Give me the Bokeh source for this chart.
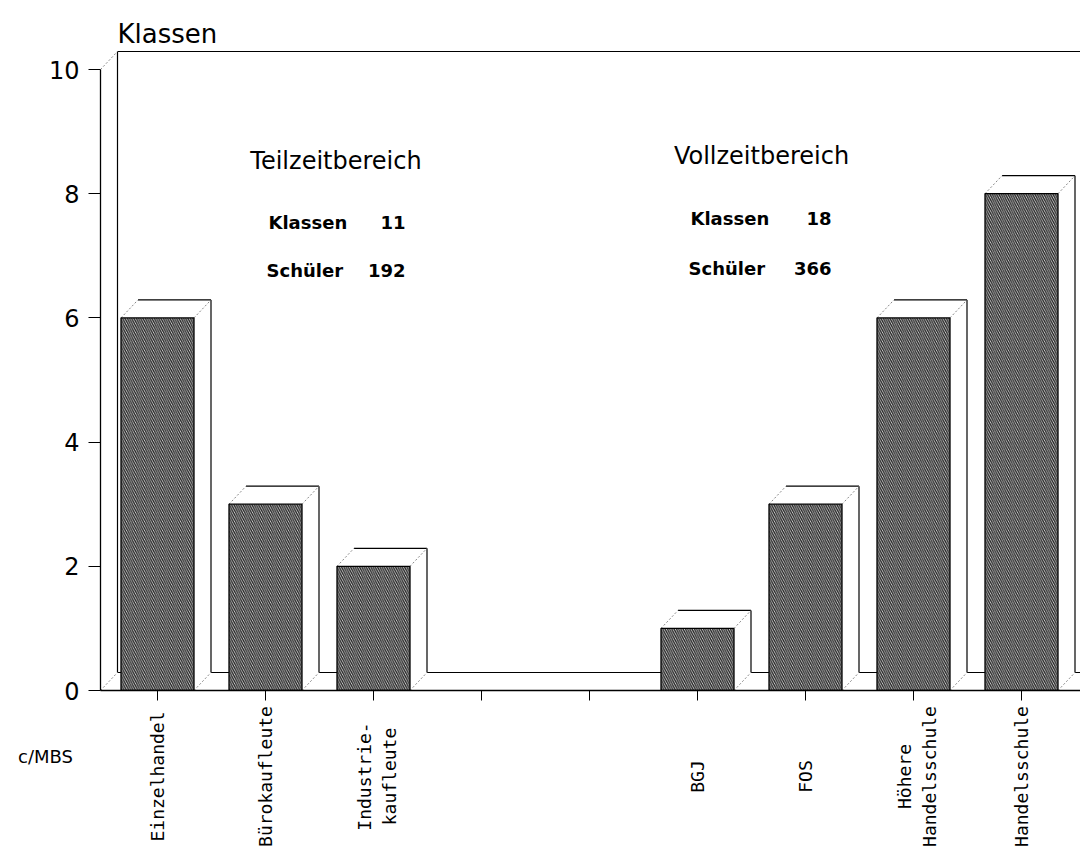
import math
import numpy as np
from bokeh.plotting import figure
from bokeh.layouts import column
from bokeh.models import Range1d, FixedTicker
from bokeh.core.properties import value
from bokeh.embed import file_html
from bokeh.resources import INLINE

# ---------------- data ----------------
categories = ["Einzelhandel", "Bürokaufleute", "Industrie-\nkaufleute",
              "BGJ", "FOS", "Höhere\nHandelsschule", "Handelsschule"]
slots = [0, 1, 2, 5, 6, 7, 8]          # position of each category (two empty slots)
klassen = [6, 3, 2, 1, 3, 6, 8]
all_slots = [0, 1, 2, 3, 4, 5, 6, 7, 8]
y_ticks = [0, 2, 4, 6, 8, 10]
groups = ["Teilzeitbereich", "Vollzeitbereich"]
group_klassen = [11, 18]
group_schueler = [192, 366]
y_title = "Klassen"
footer = "c/MBS"

# ---------------- layout (page pixels) ----------------
W, H = 1080, 849
AX_X, AX_Y = 100, 690          # y-axis line x, baseline y
H_MAIN = 705
PX_SLOT = 108.0
PX_UNIT = 62.1
SLOT0 = 157                     # page x of first slot


def px_x(page_x):
    return (page_x - SLOT0) / PX_SLOT


def px_y(page_y):
    return (AX_Y - page_y) / PX_UNIT


X0, X1 = px_x(AX_X), px_x(W)
DX = 17 / PX_SLOT
DY = 18 / PX_UNIT
HALF = 36.5 / PX_SLOT

p = figure(width=W, height=H_MAIN, output_backend="svg", toolbar_location=None,
           title=None, x_range=Range1d(X0, X1), y_range=Range1d(0, px_y(0)),
           min_border_left=AX_X, min_border_right=0, min_border_top=0,
           min_border_bottom=H_MAIN - AX_Y)
p.frame_align = False
p.outline_line_color = None
p.grid.visible = False
p.background_fill_color = "white"
p.border_fill_color = "white"

# axes
p.xaxis.ticker = FixedTicker(ticks=all_slots)
p.xaxis.major_label_text_color = None
p.xaxis.major_label_text_font_size = "0px"
p.xaxis.major_label_standoff = 0
p.xaxis.major_tick_out = 10
p.xaxis.major_tick_in = 0
p.xaxis.minor_tick_line_color = None
p.xaxis.axis_line_color = "black"
p.xaxis.axis_line_width = 1.3
p.xaxis.major_tick_line_color = "black"

p.yaxis.ticker = FixedTicker(ticks=y_ticks)
p.yaxis.bounds = (0, 10)
p.yaxis.major_tick_out = 12
p.yaxis.major_tick_in = 0
p.yaxis.minor_tick_line_color = None
p.yaxis.major_label_standoff = 9
p.yaxis.major_label_text_font = "DejaVu Sans"
p.yaxis.major_label_text_font_size = "24px"
p.yaxis.major_label_text_color = "black"
p.yaxis.axis_line_color = "black"
p.yaxis.axis_line_width = 1.3
p.yaxis.major_tick_line_color = "black"

# back wall and floor
p.segment(x0=[X0 + DX, X0 + DX, X0 + DX], y0=[10 + DY, DY, DY],
          x1=[X1, X1, X0 + DX], y1=[10 + DY, DY, 10 + DY],
          line_color="black", line_width=1.2)
p.segment(x0=[X0, X0], y0=[0, 10], x1=[X0 + DX, X0 + DX], y1=[DY, 10 + DY],
          line_color="#888888", line_width=1, line_dash="2 2")

# bars
x = np.array(slots, dtype=float)
v = np.array(klassen, dtype=float)
L = x - HALF
R = x + HALF
side_xs = [[r, r + DX, r + DX, r] for r in R]
side_ys = [[0, DY, vv + DY, vv] for vv in v]
top_xs = [[l, l + DX, r + DX, r] for l, r in zip(L, R)]
top_ys = [[vv, vv + DY, vv + DY, vv] for vv in v]
p.patches(side_xs, side_ys, fill_color="white", line_color=None)
p.patches(top_xs, top_ys, fill_color="white", line_color=None)
p.segment(x0=L + DX, y0=v + DY, x1=R + DX, y1=v + DY, line_color="black", line_width=1.2)
p.segment(x0=R + DX, y0=np.full_like(v, DY), x1=R + DX, y1=v + DY,
          line_color="black", line_width=1.2)
p.segment(x0=np.concatenate([L, R, R]),
          y0=np.concatenate([v, v, np.zeros_like(v)]),
          x1=np.concatenate([L + DX, R + DX, R + DX]),
          y1=np.concatenate([v + DY, v + DY, np.full_like(v, DY)]),
          line_color="#888888", line_width=1, line_dash="2 2")
p.quad(left=L, right=R, bottom=0, top=v, fill_color="#d8d8d8",
       hatch_pattern="\\", hatch_color="#222222", hatch_scale=4.5, hatch_weight=1.3,
       line_color="black", line_width=1.3)

# texts inside the chart
p.text(x=[px_x(117)], y=[px_y(33)], text=[y_title],
       text_font=value("DejaVu Sans"), text_font_size="26px",
       text_align="left", text_baseline="alphabetic", text_color="black")
p.text(x=[px_x(335.5), px_x(761)], y=[px_y(160), px_y(155)], text=groups,
       text_font=value("DejaVu Sans"), text_font_size="24px",
       text_align="center", text_baseline="alphabetic", text_color="black")
row_kw = dict(text_font=value("DejaVu Sans"), text_font_style="bold", text_font_size="18px",
              text_baseline="alphabetic", text_color="black")
p.text(x=[px_x(268), px_x(690)], y=[px_y(222), px_y(218)], text=["Klassen", "Klassen"],
       text_align="left", **row_kw)
p.text(x=[px_x(405), px_x(831)], y=[px_y(222), px_y(218)],
       text=[str(k) for k in group_klassen], text_align="right", **row_kw)
p.text(x=[px_x(266), px_x(688)], y=[px_y(270), px_y(268)], text=["Schüler", "Schüler"],
       text_align="left", **row_kw)
p.text(x=[px_x(405), px_x(831)], y=[px_y(270), px_y(268)],
       text=[str(s) for s in group_schueler], text_align="right", **row_kw)

# ---------------- label strip below the axis ----------------
q = figure(width=W, height=H - H_MAIN, output_backend="svg", toolbar_location=None,
           title=None, x_range=Range1d(px_x(0), px_x(W)),
           y_range=Range1d(px_y(H), px_y(H_MAIN)),
           x_axis_type=None, y_axis_type=None,
           min_border_left=0, min_border_right=0, min_border_top=0, min_border_bottom=0)
q.frame_align = False
q.outline_line_color = None
q.grid.visible = False
q.background_fill_color = "white"
q.border_fill_color = "white"

lab_x, lab_t = [], []
for s, c in zip(slots, categories):
    lines = c.split("\n")
    offs = [0] if len(lines) == 1 else [-9, 16]
    for ln, o in zip(lines, offs):
        lab_x.append(s + o / PX_SLOT)
        lab_t.append(ln)
q.text(x=lab_x, y=[px_y(776)] * len(lab_x), text=lab_t, angle=math.pi / 2,
       text_align="center", text_baseline="alphabetic",
       text_font=value("DejaVu Sans Mono"), text_font_size="18px", text_color="black")
q.text(x=[px_x(45)], y=[px_y(756)], text=[footer], text_align="center",
       text_baseline="middle", text_font=value("DejaVu Sans"), text_font_size="18px",
       text_color="black")

open("out.html", "w").write(file_html(column(p, q, spacing=0), INLINE))
